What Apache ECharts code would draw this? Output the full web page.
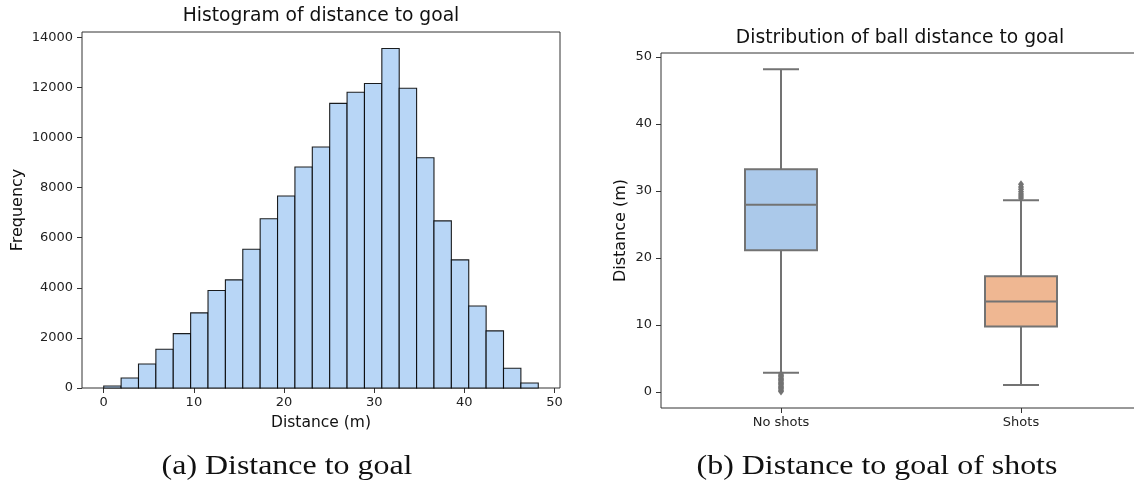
<!DOCTYPE html>
<html>
<head>
<meta charset="utf-8">
<script src="https://cdn.jsdelivr.net/npm/echarts@6/dist/echarts.min.js"></script>
<style>html,body{margin:0;padding:0;background:#fff}#c{width:1134px;height:484px}</style>
</head>
<body>
<div id="c"></div>
<script>
// ---- data ----
const binStart = 0;
const binWidth = 1.928;
const histCounts = [80, 400, 960, 1545, 2170, 3000, 3890, 4315, 5540, 6755, 7660, 8820, 9620, 11360, 11800, 12150, 13550, 11960, 9190, 6670, 5115, 3275, 2280, 790, 200];
const histXTicks = [0, 10, 20, 30, 40, 50];
const histYTicks = [0, 2000, 4000, 6000, 8000, 10000, 12000, 14000];

const boxCategories = ['No shots', 'Shots'];
// [min whisker, Q1, median, Q3, max whisker]
const boxNoShots = [2.87, 21.15, 27.95, 33.26, 48.2];
const boxShots = [1.04, 9.78, 13.5, 17.28, 28.6];
const outliersNoShots = [0.05, 0.25, 0.45, 0.65, 0.85, 1.05, 1.25, 1.45, 1.65, 1.85, 2.05, 2.25, 2.45, 2.65];
const outliersShots = [28.95, 29.25, 29.55, 29.9, 30.25, 30.6, 31.0];
const boxYTicks = [0, 10, 20, 30, 40, 50];

// ---- build ----
const histData = histCounts.map((c, i) => [binStart + i * binWidth, binStart + (i + 1) * binWidth, c]);
const boxData = [[0].concat(boxNoShots), [1].concat(boxShots)];
const outlierData = outliersNoShots.map(v => [0, v]).concat(outliersShots.map(v => [1, v]));
const boxFill = ['#abc9ea', '#efb792'];
const lineGray = '#737373';
const FONT = 'DejaVu Sans';

const chart = echarts.init(document.getElementById('c'), null, {renderer: 'canvas'});
const tickLabel = {color: '#222', fontFamily: FONT, fontSize: 13};
const nameStyle = {fontFamily: FONT, fontSize: 16, color: '#111'};
const tickStyle = {show: true, length: 5, lineStyle: {color: '#333'}};

chart.setOption({
  animation: false,
  grid: [
    {left: 82, top: 32, width: 478, height: 356, show: true, borderColor: '#333', borderWidth: 1, backgroundColor: 'transparent', outerBoundsMode: 'none', containLabel: false},
    {left: 661, top: 53, width: 480, height: 355, show: true, borderColor: '#333', borderWidth: 1, backgroundColor: 'transparent', outerBoundsMode: 'none', containLabel: false}
  ],
  xAxis: [
    {
      type: 'value', gridIndex: 0, min: -2.41, max: 50.61,
      name: 'Distance (m)', nameLocation: 'middle', nameGap: 27,
      nameTextStyle: Object.assign({}, nameStyle, {fontSize: 15.5}),
      axisLine: {show: false, onZero: false}, splitLine: {show: false},
      axisTick: Object.assign({customValues: histXTicks}, tickStyle),
      axisLabel: Object.assign({margin: 8, customValues: histXTicks, formatter: v => String(v)}, tickLabel)
    },
    {
      type: 'category', gridIndex: 1, data: boxCategories, boundaryGap: true,
      axisLine: {show: false, onZero: false}, splitLine: {show: false},
      axisTick: Object.assign({alignWithLabel: true}, tickStyle),
      axisLabel: Object.assign({margin: 8, interval: 0}, tickLabel)
    }
  ],
  yAxis: [
    {
      type: 'value', gridIndex: 0, min: 0, max: 14207,
      name: 'Frequency', nameLocation: 'middle', nameGap: 56, nameRotate: 90,
      nameTextStyle: nameStyle,
      axisLine: {show: false, onZero: false}, splitLine: {show: false},
      axisTick: Object.assign({customValues: histYTicks}, tickStyle),
      axisLabel: Object.assign({margin: 9, customValues: histYTicks, formatter: v => String(v)}, tickLabel)
    },
    {
      type: 'value', gridIndex: 1, min: -2.41, max: 50.61,
      name: 'Distance (m)', nameLocation: 'middle', nameGap: 32, nameRotate: 90,
      nameTextStyle: nameStyle,
      axisLine: {show: false, onZero: false}, splitLine: {show: false},
      axisTick: Object.assign({customValues: boxYTicks}, tickStyle),
      axisLabel: Object.assign({margin: 9, customValues: boxYTicks, formatter: v => String(v)}, tickLabel)
    }
  ],
  series: [
    {
      type: 'custom', xAxisIndex: 0, yAxisIndex: 0, data: histData,
      encode: {x: [0, 1], y: 2},
      renderItem: function (params, api) {
        const p0 = api.coord([api.value(0), 0]);
        const p1 = api.coord([api.value(1), api.value(2)]);
        return {
          type: 'rect',
          shape: {x: p0[0], y: p1[1], width: p1[0] - p0[0], height: p0[1] - p1[1]},
          style: {fill: '#b8d6f6', stroke: 'rgba(0,0,0,0.88)', lineWidth: 1.1}
        };
      }
    },
    {
      type: 'custom', xAxisIndex: 1, yAxisIndex: 1, data: boxData,
      encode: {x: 0, y: [1, 2, 3, 4, 5]},
      renderItem: function (params, api) {
        const idx = api.value(0);
        const cx = api.coord([idx, 0])[0];
        const y = [1, 2, 3, 4, 5].map(k => api.coord([idx, api.value(k)])[1]);
        const band = api.size([1, 0])[0];
        const bw = band * 0.3;
        const cw = bw / 2;
        const ls = {stroke: lineGray, lineWidth: 2};
        return {
          type: 'group',
          children: [
            {type: 'line', shape: {x1: cx, y1: y[1], x2: cx, y2: y[0]}, style: ls},
            {type: 'line', shape: {x1: cx, y1: y[3], x2: cx, y2: y[4]}, style: ls},
            {type: 'line', shape: {x1: cx - cw / 2, y1: y[0], x2: cx + cw / 2, y2: y[0]}, style: ls},
            {type: 'line', shape: {x1: cx - cw / 2, y1: y[4], x2: cx + cw / 2, y2: y[4]}, style: ls},
            {type: 'rect', shape: {x: cx - bw / 2, y: y[3], width: bw, height: y[1] - y[3]},
              style: {fill: boxFill[idx], stroke: lineGray, lineWidth: 2}},
            {type: 'line', shape: {x1: cx - bw / 2, y1: y[2], x2: cx + bw / 2, y2: y[2]}, style: ls}
          ]
        };
      }
    },
    {
      type: 'scatter', xAxisIndex: 1, yAxisIndex: 1, data: outlierData,
      symbol: 'diamond', symbolSize: [6, 8],
      itemStyle: {color: lineGray, opacity: 1}
    }
  ],
  graphic: [
    {type: 'text', x: 321, y: 16, style: {text: 'Histogram of distance to goal', font: '18.7px "DejaVu Sans"', fill: '#111', align: 'center', verticalAlign: 'middle', textAlign: 'center', textVerticalAlign: 'middle'}},
    {type: 'text', x: 900, y: 38, style: {text: 'Distribution of ball distance to goal', font: '18.7px "DejaVu Sans"', fill: '#111', align: 'center', verticalAlign: 'middle', textAlign: 'center', textVerticalAlign: 'middle'}},
    {type: 'text', x: 287, y: 467, scaleX: 1.14, style: {text: '(a) Distance to goal', font: '28px "Liberation Serif"', fill: '#111', align: 'center', verticalAlign: 'middle', textAlign: 'center', textVerticalAlign: 'middle'}},
    {type: 'text', x: 877, y: 467, scaleX: 1.14, style: {text: '(b) Distance to goal of shots', font: '28px "Liberation Serif"', fill: '#111', align: 'center', verticalAlign: 'middle', textAlign: 'center', textVerticalAlign: 'middle'}}
  ]
});
</script>
</body>
</html>
